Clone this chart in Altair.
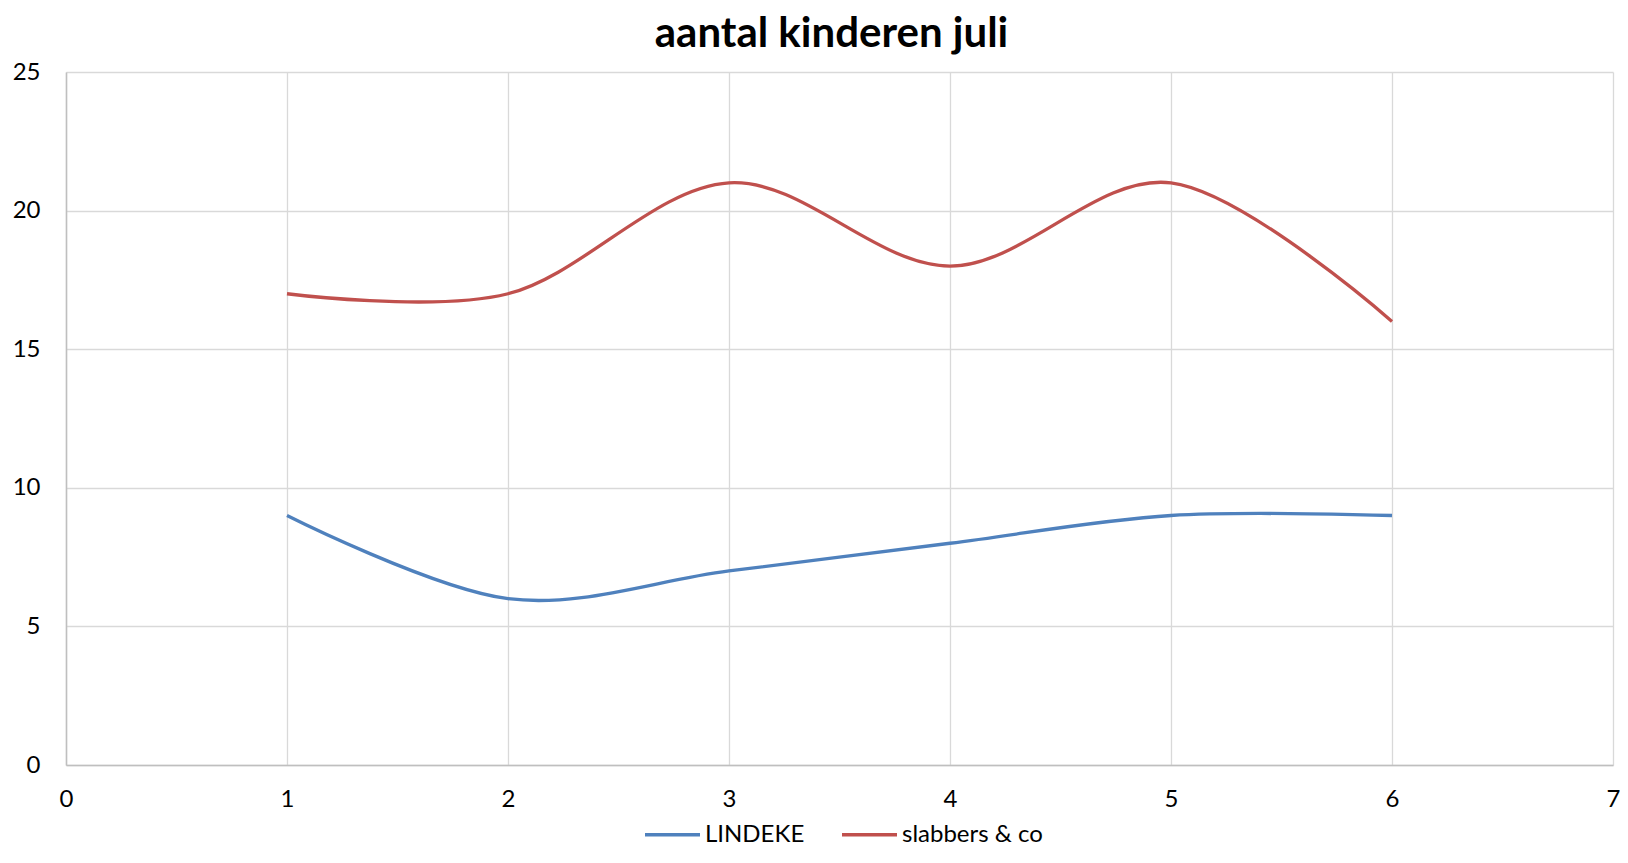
import altair as alt
import pandas as pd

x_vals = [1, 2, 3, 4, 5, 6]
lindeke = [9, 6, 7, 8, 9, 9]
slabbers = [17, 17, 21, 18, 21, 16]
series_names = ["LINDEKE", "slabbers & co"]
colors = ["#4F81BD", "#C0504D"]

rows = []
for xv, a, b in zip(x_vals, lindeke, slabbers):
    rows.append({"x": xv, "value": a, "series": series_names[0]})
    rows.append({"x": xv, "value": b, "series": series_names[1]})
df = pd.DataFrame(rows)

FONT = "Lato"

chart = alt.Chart(df).mark_line(interpolate="cardinal", strokeWidth=3.3).encode(
    x=alt.X("x:Q", scale=alt.Scale(domain=[0, 7], nice=False),
            axis=alt.Axis(title=None, values=[0, 1, 2, 3, 4, 5, 6, 7], format="d",
                          grid=True, gridColor="#d9d9d9", gridWidth=1.3,
                          domainColor="#bfbfbf", domainWidth=1.5, ticks=False,
                          labelPadding=22, labelFontSize=24, labelColor="#000000",
                          labelFont=FONT, labelFlush=False)),
    y=alt.Y("value:Q", scale=alt.Scale(domain=[0, 25], nice=False),
            axis=alt.Axis(title=None, values=[0, 5, 10, 15, 20, 25],
                          grid=True, gridColor="#d9d9d9", gridWidth=1.3,
                          domainColor="#bfbfbf", domainWidth=1.5, ticks=False,
                          labelPadding=26, labelFontSize=24, labelColor="#000000",
                          labelFont=FONT, labelFlush=False)),
    color=alt.Color("series:N", sort=series_names,
                    scale=alt.Scale(domain=series_names, range=colors),
                    legend=alt.Legend(title=None, orient="none", direction="horizontal",
                                      legendX=577, legendY=733,
                                      symbolType="stroke", symbolSize=3025,
                                      symbolStrokeWidth=3.3, labelFontSize=24,
                                      labelFont=FONT, labelColor="#000000",
                                      labelOffset=3, columnPadding=30)),
).properties(
    width=1547,
    height=693,
    title=alt.TitleParams("aantal kinderen juli", fontSize=42, font=FONT,
                          fontWeight="bold", color="#000000", offset=4, dx=-8),
    autosize=alt.AutoSizeParams(type="none"),
    padding={"left": 58, "top": 64, "right": 7, "bottom": 84},
).configure_view(stroke=None)

chart.save("out.html", embed_options={"renderer": "svg", "actions": False})
